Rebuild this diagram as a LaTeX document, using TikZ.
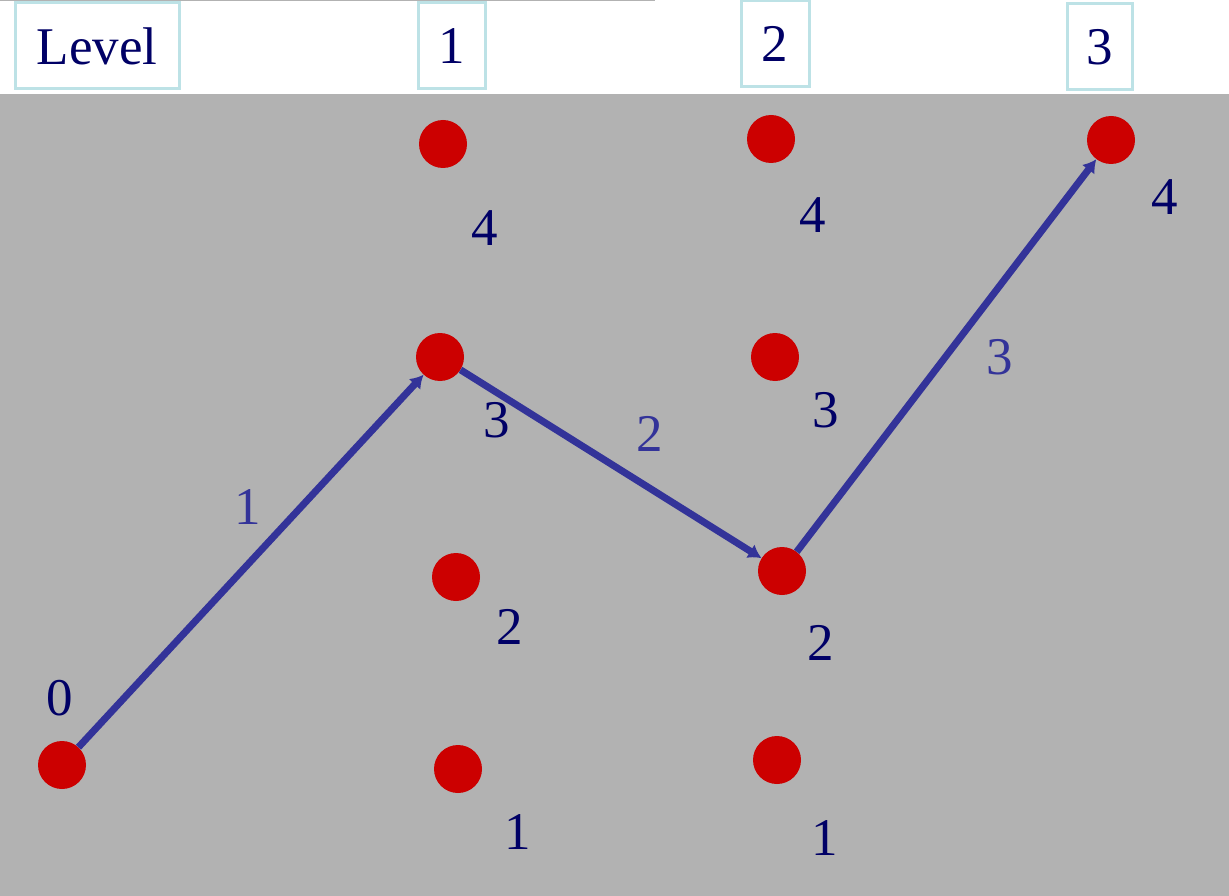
\documentclass[tikz,border=0pt]{standalone}
\usepackage{fontspec}
\setmainfont{Liberation Serif}
\usetikzlibrary{arrows.meta}
\definecolor{bggray}{HTML}{B2B2B2}
\definecolor{dotred}{HTML}{CC0000}
\definecolor{walkblue}{HTML}{333399}
\definecolor{navy}{HTML}{000066}
\definecolor{framecyan}{HTML}{BDE2E6}
\begin{document}
\begin{tikzpicture}[x=1pt,y=-1pt,>=Latex,
state/.style={circle,fill=dotred,minimum size=48pt,inner sep=0pt},
num/.style={text=navy,font=\fontsize{53}{56}\selectfont,inner sep=0pt},
levelbox/.style={draw=framecyan,line width=3pt,fill=white,text=navy,font=\fontsize{53}{56}\selectfont,inner sep=0pt,minimum height=86pt},
weight/.style={text=walkblue,font=\fontsize{53}{56}\selectfont,inner sep=0pt},
walk/.style={-{Latex[length=13pt,width=16pt]},line width=7pt,walkblue}]

\useasboundingbox (0,0) rectangle (1229,896);
\fill[bggray] (0,94) rectangle (1229,896);
\draw[bggray,line width=2pt] (0,0)--(655,0);

% level header
\node[levelbox,minimum width=164pt] (hlevel) at (97,46){Level};
\node[levelbox,minimum width=67pt] (h1) at (451.5,46){1};
\node[levelbox,minimum width=68pt] (h2) at (775,43.5){2};
\node[levelbox,minimum width=65pt] (h3) at (1099.5,47){3};

% states
\node[state] (s0) at (62,765){};
\node[state] (a4) at (443,144){};
\node[state] (a3) at (440,357){};
\node[state] (a2) at (456,577){};
\node[state] (a1) at (458,769){};
\node[state] (b4) at (771,139){};
\node[state] (b3) at (775,357){};
\node[state] (b2) at (782,571){};
\node[state] (b1) at (777,760){};
\node[state] (c4) at (1111,140){};

\node[num] (ls0) at (60,698){0};
\node[num] (la4) at (485,228){4};
\node[num] (la3) at (497,420){3};
\node[num] (la2) at (510,627){2};
\node[num] (la1) at (518,832){1};
\node[num] (lb4) at (813,215){4};
\node[num] (lb3) at (826,410){3};
\node[num] (lb2) at (821,643){2};
\node[num] (lb1) at (825,838){1};
\node[num] (lc4) at (1165,197){4};

% chosen path
\draw[walk] (s0)--(a3);
\draw[walk] (a3)--(b2);
\draw[walk] (b2)--(c4);

\node[weight] (w1) at (248,507){1};
\node[weight] (w2) at (650,434){2};
\node[weight] (w3) at (1000,357){3};
\end{tikzpicture}
\end{document}
